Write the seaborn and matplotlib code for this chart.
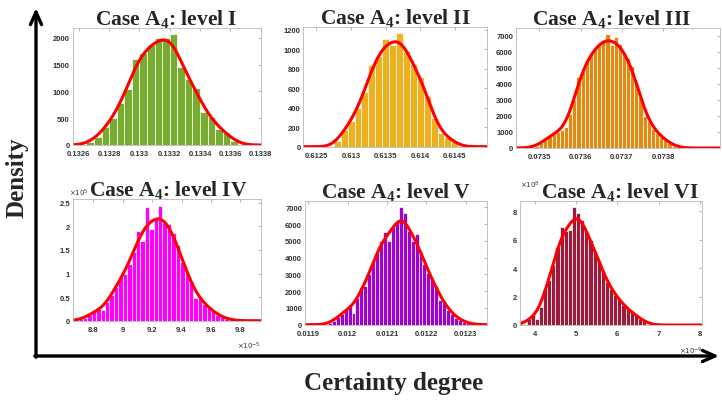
import numpy as np
import seaborn as sns
import matplotlib.pyplot as plt
from matplotlib.ticker import FuncFormatter

# histogram counts (bin start, bin width, counts)
lvl1_start, lvl1_width = 0.13265, 0.00005
lvl1_counts = [60, 145, 330, 500, 780, 1050, 1600, 1720, 1870, 1990,
               2000, 2080, 1465, 1235, 1060, 620, 520, 300, 220, 80]

lvl2_start, lvl2_width = 0.61275, 0.0001
lvl2_counts = [55, 170, 260, 400, 560, 840, 930, 1100, 1040, 1170,
               980, 850, 720, 520, 290, 140, 95, 45]

lvl3_start, lvl3_width = 0.07348, 0.00001
lvl3_counts = [50, 150, 300, 500, 750, 900, 1000, 1100, 1300, 2100,
               3000, 4400, 4800, 5500, 5900, 6200, 6500, 6700, 7100, 6400,
               6900, 6500, 5900, 5600, 5100, 4100, 3200, 2000, 1700, 1200,
               950, 700, 500, 300, 150, 60]

# level IV: x in 1e-5, y in 1e5
lvl4_start, lvl4_width = 8.70, 0.03
lvl4_counts = [0.03, 0.06, 0.12, 0.20, 0.24, 0.22, 0.40, 0.55, 0.72, 0.93,
               1.00, 1.20, 1.45, 1.90, 1.68, 2.40, 1.95, 2.15, 2.43, 2.07,
               2.05, 1.85, 1.60, 1.25, 1.02, 0.85, 0.48, 0.50, 0.35, 0.27,
               0.20, 0.12, 0.07, 0.04, 0.02]

lvl5_start, lvl5_width = 0.01195, 0.00001
lvl5_counts = [100, 200, 450, 650, 850, 1200, 700, 1600, 2250, 2300,
               3000, 3800, 4300, 5000, 5550, 5000, 5850, 6100, 7000, 6650,
               5600, 5000, 5400, 4400, 3600, 3100, 2700, 2300, 1500, 1350,
               900, 650, 420, 300, 180, 80, 40]

# level VI: x in 1e-9, y in 1e8
lvl6_start, lvl6_width = 3.7, 0.1
lvl6_counts = [0.1, 0.4, 0.7, 0.45, 1.3, 2.55, 3.2, 4.2, 5.5, 6.9,
               6.6, 6.7, 8.3, 7.9, 7.4, 6.6, 6.0, 5.2, 4.5, 3.8,
               3.0, 2.5, 2.1, 1.8, 1.4, 1.1, 0.9, 0.7, 0.45, 0.25, 0.1]

levels = ['I', 'II', 'III', 'IV', 'V', 'VI']
colors = ['#77AC30', '#EDB120', '#E08A12', '#FF00FF', '#A000D0', '#9E1A3C']

xlims = [(0.13256, 0.1338), (0.61231, 0.61496), (0.073444, 0.073937),
         (8.66, 9.94), (0.011892, 0.012353), (3.64, 8.06)]
ylims = [(0, 2180), (0, 1225), (0, 7460), (0, 2.58), (0, 7360), (0, 8.75)]
xticks = [[0.1326, 0.1328, 0.133, 0.1332, 0.1334, 0.1336, 0.1338],
          [0.6125, 0.613, 0.6135, 0.614, 0.6145],
          [0.0735, 0.0736, 0.0737, 0.0738],
          [8.8, 9, 9.2, 9.4, 9.6, 9.8],
          [0.0119, 0.012, 0.0121, 0.0122, 0.0123],
          [4, 5, 6, 7, 8]]
yticks = [[0, 500, 1000, 1500, 2000],
          [0, 200, 400, 600, 800, 1000, 1200],
          [0, 1000, 2000, 3000, 4000, 5000, 6000, 7000],
          [0, 0.5, 1, 1.5, 2, 2.5],
          [0, 1000, 2000, 3000, 4000, 5000, 6000, 7000],
          [0, 2, 4, 6, 8]]

hists = [(lvl1_start, lvl1_width, lvl1_counts), (lvl2_start, lvl2_width, lvl2_counts),
         (lvl3_start, lvl3_width, lvl3_counts), (lvl4_start, lvl4_width, lvl4_counts),
         (lvl5_start, lvl5_width, lvl5_counts), (lvl6_start, lvl6_width, lvl6_counts)]

# panel boxes in pixels: left, top, right, bottom
boxes = [(72.7, 29.3, 260.7, 146), (303.3, 28.3, 486.7, 147.7), (516, 29.3, 720, 149),
         (72.7, 200, 261, 321.7), (305, 202.3, 486.7, 325.7), (520, 201.7, 702.3, 326)]
title_x = [0.5, 0.5, 0.47, 0.51, 0.5, 0.55]

sns.set_style('white')
W, H = 722, 402
fig = plt.figure(figsize=(W / 100, H / 100), dpi=100)

# big L-shaped arrows behind everything
ov = fig.add_axes([0, 0, 1, 1])
ov.set_xlim(0, W)
ov.set_ylim(H, 0)
ov.set_axis_off()
arrow = dict(arrowstyle='->,head_length=0.9,head_width=0.4', lw=2.4, color='black',
             shrinkA=0, shrinkB=0)
ov.annotate('', xy=(36, 9), xytext=(36, 358.2), arrowprops=arrow)
ov.annotate('', xy=(719, 357), xytext=(34.8, 357), arrowprops=arrow)

fmt = FuncFormatter(lambda v, p: f'{v:g}')
serif = ['Liberation Serif', 'DejaVu Serif']

for i in range(6):
    l, t, r, b = boxes[i]
    ax = fig.add_axes([l / W, 1 - b / H, (r - l) / W, (b - t) / H])
    start, width, counts = hists[i]
    n = len(counts)
    centers = start + width * (np.arange(n) + 0.5)
    sns.histplot(x=centers, weights=counts, binwidth=width,
                 binrange=(start, start + width * n), kde=True, color=colors[i],
                 alpha=1, edgecolor='white', linewidth=0.5,
                 kde_kws={'bw_adjust': 0.5, 'cut': 30, 'clip': xlims[i]},
                 line_kws={'linewidth': 2.2}, ax=ax)
    ax.lines[-1].set_color('#FF0000')
    ax.set_xlim(*xlims[i])
    ax.set_ylim(*ylims[i])
    ax.set_xticks(xticks[i])
    ax.set_yticks(yticks[i])
    ax.xaxis.set_major_formatter(fmt)
    ax.yaxis.set_major_formatter(fmt)
    ax.set_xlabel('')
    ax.set_ylabel('')
    ax.tick_params(direction='in', length=2.5, width=0.5, color='#999999',
                   labelsize=5.5, labelcolor='#333333', pad=2,
                   top=True, right=True)
    ax.tick_params(axis='x', pad=3.5)
    for lab in ax.get_xticklabels() + ax.get_yticklabels():
        lab.set_fontweight('bold')
        lab.set_fontfamily('Liberation Sans')
    for sp in ax.spines.values():
        sp.set_color('#b8b8b8')
        sp.set_linewidth(0.6)
    ax.set_title(r'Case A$\mathregular{_4}$: level ' + levels[i], fontfamily=serif,
                 fontweight='bold', fontsize=15.5, pad=3, x=title_x[i])

    if i == 3:
        ax.text(-0.02, 1.01, r'$\times10^{5}$', transform=ax.transAxes, fontsize=5,
                color='#333333', ha='left', va='bottom')
        ax.text(1.0, -0.16, r'$\times10^{-5}$', transform=ax.transAxes, fontsize=5,
                color='#333333', ha='right', va='top')
    if i == 5:
        ax.text(0.0, 1.09, r'$\times10^{8}$', transform=ax.transAxes, fontsize=5,
                color='#333333', ha='left', va='bottom')
        ax.text(1.0, -0.16, r'$\times10^{-9}$', transform=ax.transAxes, fontsize=5,
                color='#333333', ha='right', va='top')

fig.text(17 / W, 1 - 178 / H, 'Density', rotation=90, ha='center', va='center',
         fontfamily=serif, fontweight='bold', fontsize=18)
fig.text(394 / W, 1 - 384 / H, 'Certainty degree', ha='center', va='center',
         fontfamily=serif, fontweight='bold', fontsize=18)

fig.savefig('out.png', dpi=100)
plt.close()
